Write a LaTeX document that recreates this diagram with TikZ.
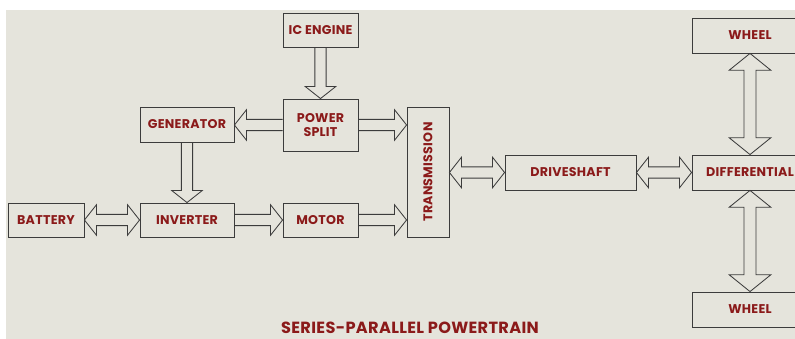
\documentclass[tikz,border=0pt]{standalone}
\usepackage{fontspec}
\setmainfont{Poppins}[LetterSpace=2]
\usepackage{graphicx}
\usetikzlibrary{calc}
\definecolor{panel}{HTML}{E5E4DC}
\definecolor{label}{HTML}{8B1A1A}
\definecolor{edge}{HTML}{3C3C3C}

% sizes of the hollow block arrows
\newcommand{\shafthw}{0.14cm}
\newcommand{\headhw}{0.38cm}
\newcommand{\headlen}{0.30cm}

% one-way hollow arrow, tail at #1, tip at #2
\newcommand{\singleblock}[2]{%
  \coordinate (ha) at ($(#2)!\headlen!(#1)$);
  \draw[blockarrow] ($(#1)!\shafthw!90:(#2)$) -- ($(ha)!\shafthw!-90:(#1)$)
    -- ($(ha)!\headhw!-90:(#1)$) -- (#2) -- ($(ha)!\headhw!90:(#1)$)
    -- ($(ha)!\shafthw!90:(#1)$) -- ($(#1)!\shafthw!-90:(#2)$);
}
% two-way hollow arrow between #1 and #2
\newcommand{\doubleblock}[2]{%
  \coordinate (ha) at ($(#2)!\headlen!(#1)$);
  \coordinate (hb) at ($(#1)!\headlen!(#2)$);
  \draw[blockarrow] (#1) -- ($(hb)!\headhw!90:(#2)$) -- ($(hb)!\shafthw!90:(#2)$)
    -- ($(ha)!\shafthw!-90:(#1)$) -- ($(ha)!\headhw!-90:(#1)$) -- (#2)
    -- ($(ha)!\headhw!90:(#1)$) -- ($(ha)!\shafthw!90:(#1)$)
    -- ($(hb)!\shafthw!-90:(#2)$) -- ($(hb)!\headhw!-90:(#2)$) -- cycle;
}

\tikzset{
  unit/.style={draw=edge,line width=0.6pt,fill=panel,text=label,inner sep=0pt,
    align=center,font=\bfseries\fontsize{9}{10.5}\selectfont},
  blockarrow/.style={draw=edge,line width=0.6pt,line join=miter},
}

\begin{document}
\begin{tikzpicture}[x=0.025cm,y=-0.025cm]
  \useasboundingbox (0,0) rectangle (795,339);
  \clip (0,0) rectangle (795,339);
  \fill[panel] (6,10) rectangle (795,339);

  % engine side
  \node[unit,minimum width=1.875cm,minimum height=0.85cm] (iceng) at (320.5,30) {IC ENGINE};
  \node[unit,minimum width=1.875cm,minimum height=1.3cm] (split) at (320.5,125) {POWER\\SPLIT};
  \node[unit,minimum width=2.35cm,minimum height=0.875cm] (gen) at (187,124.5) {GENERATOR};

  % electric path
  \node[unit,minimum width=1.9cm,minimum height=0.85cm] (batt) at (46,220) {BATTERY};
  \node[unit,minimum width=2.35cm,minimum height=0.85cm] (inv) at (187,220) {INVERTER};
  \node[unit,minimum width=1.875cm,minimum height=0.85cm] (motor) at (320.5,220) {MOTOR};

  % driveline
  \node[unit,minimum width=1.05cm,minimum height=3.25cm] (trans) at (428,172) {\rotatebox{90}{TRANSMISSION}};
  \node[unit,minimum width=3.275cm,minimum height=0.875cm] (drive) at (570.5,172.5) {DRIVESHAFT};
  \node[unit,minimum width=2.9cm,minimum height=0.875cm] (diff) at (750,172.5) {DIFFERENTIAL};
  \node[unit,minimum width=2.9cm,minimum height=0.875cm] (wheelup) at (750,35.5) {WHEEL};
  \node[unit,minimum width=2.9cm,minimum height=0.875cm] (wheeldown) at (750,309.5) {WHEEL};

  \node[text=label,font=\bfseries\fontsize{11.5}{13}\selectfont] (title) at (410,328) {SERIES-PARALLEL POWERTRAIN};

  \singleblock{iceng.south}{split.north}
  \singleblock{split.west}{split.west -| gen.east}
  \singleblock{split.east}{trans.west |- split.east}
  \singleblock{gen.south}{inv.north}
  \doubleblock{batt.east}{inv.west}
  \singleblock{inv.east}{motor.west}
  \singleblock{motor.east}{trans.west |- motor.east}
  \doubleblock{trans.east |- drive.west}{drive.west}
  \doubleblock{drive.east}{diff.west}

  % wider heads towards the wheels
  \renewcommand{\shafthw}{0.15cm}
  \renewcommand{\headhw}{0.52cm}
  \renewcommand{\headlen}{0.42cm}
  \doubleblock{wheelup.south}{diff.north}
  \doubleblock{diff.south}{wheeldown.north}
\end{tikzpicture}
\end{document}
